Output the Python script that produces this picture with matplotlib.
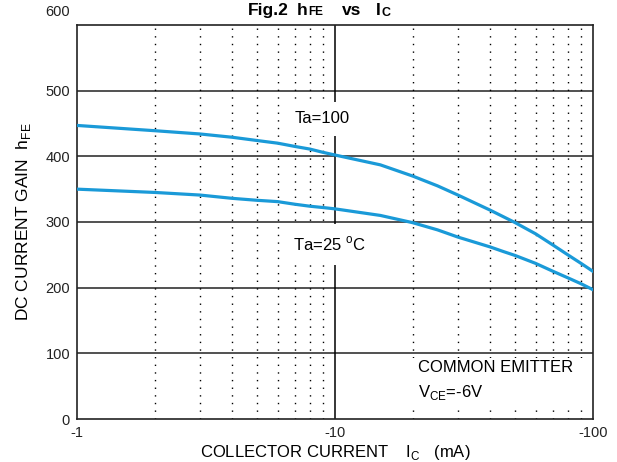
import matplotlib.pyplot as plt
from matplotlib.patches import Rectangle
from matplotlib.ticker import FixedLocator, FixedFormatter, NullLocator

plt.rcParams['font.family'] = ['Liberation Sans', 'DejaVu Sans']
plt.rcParams['mathtext.fontset'] = 'custom'
plt.rcParams['mathtext.rm'] = 'Liberation Sans'
plt.rcParams['mathtext.bf'] = 'Liberation Sans:bold'

# collector current (mA, magnitude) and DC current gain
ic = [1, 2, 3, 4, 5, 6, 7, 8, 9, 10, 15, 20, 25, 30, 40, 45, 50, 60, 70, 80, 90, 100]
hfe_ta100 = [447, 439, 434, 429, 424, 420, 415, 411, 406, 402, 387, 370, 355, 341,
             318, 308, 299, 282, 265, 250, 237, 225]
hfe_ta25 = [350, 345, 341, 336, 333, 331, 327, 324, 322, 320, 310, 299, 288, 277,
            262, 255, 249, 237, 225, 215, 206, 197]

x_ticks = [1, 10, 100]
x_ticklabels = ["-1", "-10", "-100"]
y_ticks = [0, 100, 200, 300, 400, 500]
minor_x = [2, 3, 4, 5, 6, 7, 8, 9, 20, 30, 40, 50, 60, 70, 80, 90]

BLUE = "#1a9ad8"
INK = "#222222"

fig = plt.figure(figsize=(6.17, 4.62), dpi=100)
ax = fig.add_axes([0.1248, 0.093, 0.836, 0.853])

ax.set_xscale("log")
ax.set_xlim(1, 100)
ax.set_ylim(0, 600)

# grid
for y in y_ticks[1:]:
    ax.axhline(y, color=INK, lw=1.1, zorder=1)
ax.axvline(10, color="black", lw=1.1, zorder=1)
for x in minor_x:
    ax.axvline(x, color="black", lw=1.0, linestyle=(0, (1, 4.5)), zorder=1)

ax.plot(ic, hfe_ta100, color=BLUE, lw=2.3, zorder=4)
ax.plot(ic, hfe_ta25, color=BLUE, lw=2.3, zorder=4)

ax.text(6.95, 457, "Ta=100", fontsize=12, ha="left", va="center", zorder=3,
        bbox=dict(facecolor="white", edgecolor="none", pad=7))
ax.text(6.85, 266, r"Ta=25 $^{\rm o}$C", fontsize=12, ha="left", va="center", zorder=3,
        bbox=dict(facecolor="white", edgecolor="none", pad=8))

# white panel behind the test-condition note
ax.add_patch(Rectangle((0.642, 0.026), 0.355, 0.13, transform=ax.transAxes,
                       facecolor="white", edgecolor="none", zorder=2))
ax.text(21.0, 78, "COMMON EMITTER", fontsize=12, ha="left", va="center", zorder=3)
ax.text(21.0, 41, r"V$_{\rm CE}$=-6V", fontsize=12, ha="left", va="center", zorder=3)

ax.xaxis.set_major_locator(FixedLocator(x_ticks))
ax.xaxis.set_major_formatter(FixedFormatter(x_ticklabels))
ax.xaxis.set_minor_locator(NullLocator())
ax.set_yticks(y_ticks)
ax.tick_params(axis="both", length=0, labelsize=10.5, colors=INK, pad=5)
ax.text(-0.014, 1.033, "600", transform=ax.transAxes, fontsize=10.5, color=INK,
        ha="right", va="center")

for s in ax.spines.values():
    s.set_linewidth(1.2)
    s.set_color(INK)

ax.set_xlabel(r"COLLECTOR CURRENT    I$_{\rm C}$   (mA)", fontsize=12, labelpad=2)
ax.set_ylabel(r"DC CURRENT GAIN  h$_{\rm FE}$", fontsize=12.5, labelpad=9)

# title pieces, placed in figure pixels
W, H = 617.0, 462.0
base = 1 - 15 / H
fig.text(248 / W, base, "Fig.2", fontsize=12.5, fontweight="bold", va="baseline")
fig.text(297 / W, base, "h", fontsize=12.5, fontweight="bold", va="baseline")
fig.text(308 / W, base, "FE", fontsize=8.5, fontweight="bold", va="baseline")
fig.text(342 / W, base, "vs", fontsize=12.5, fontweight="bold", va="baseline")
fig.text(376 / W, base, "I", fontsize=12.5, fontweight="bold", va="baseline")
fig.text(382 / W, base - 1.5 / H, "C", fontsize=9, fontweight="bold", va="baseline")

fig.savefig("out.png", dpi=100)
